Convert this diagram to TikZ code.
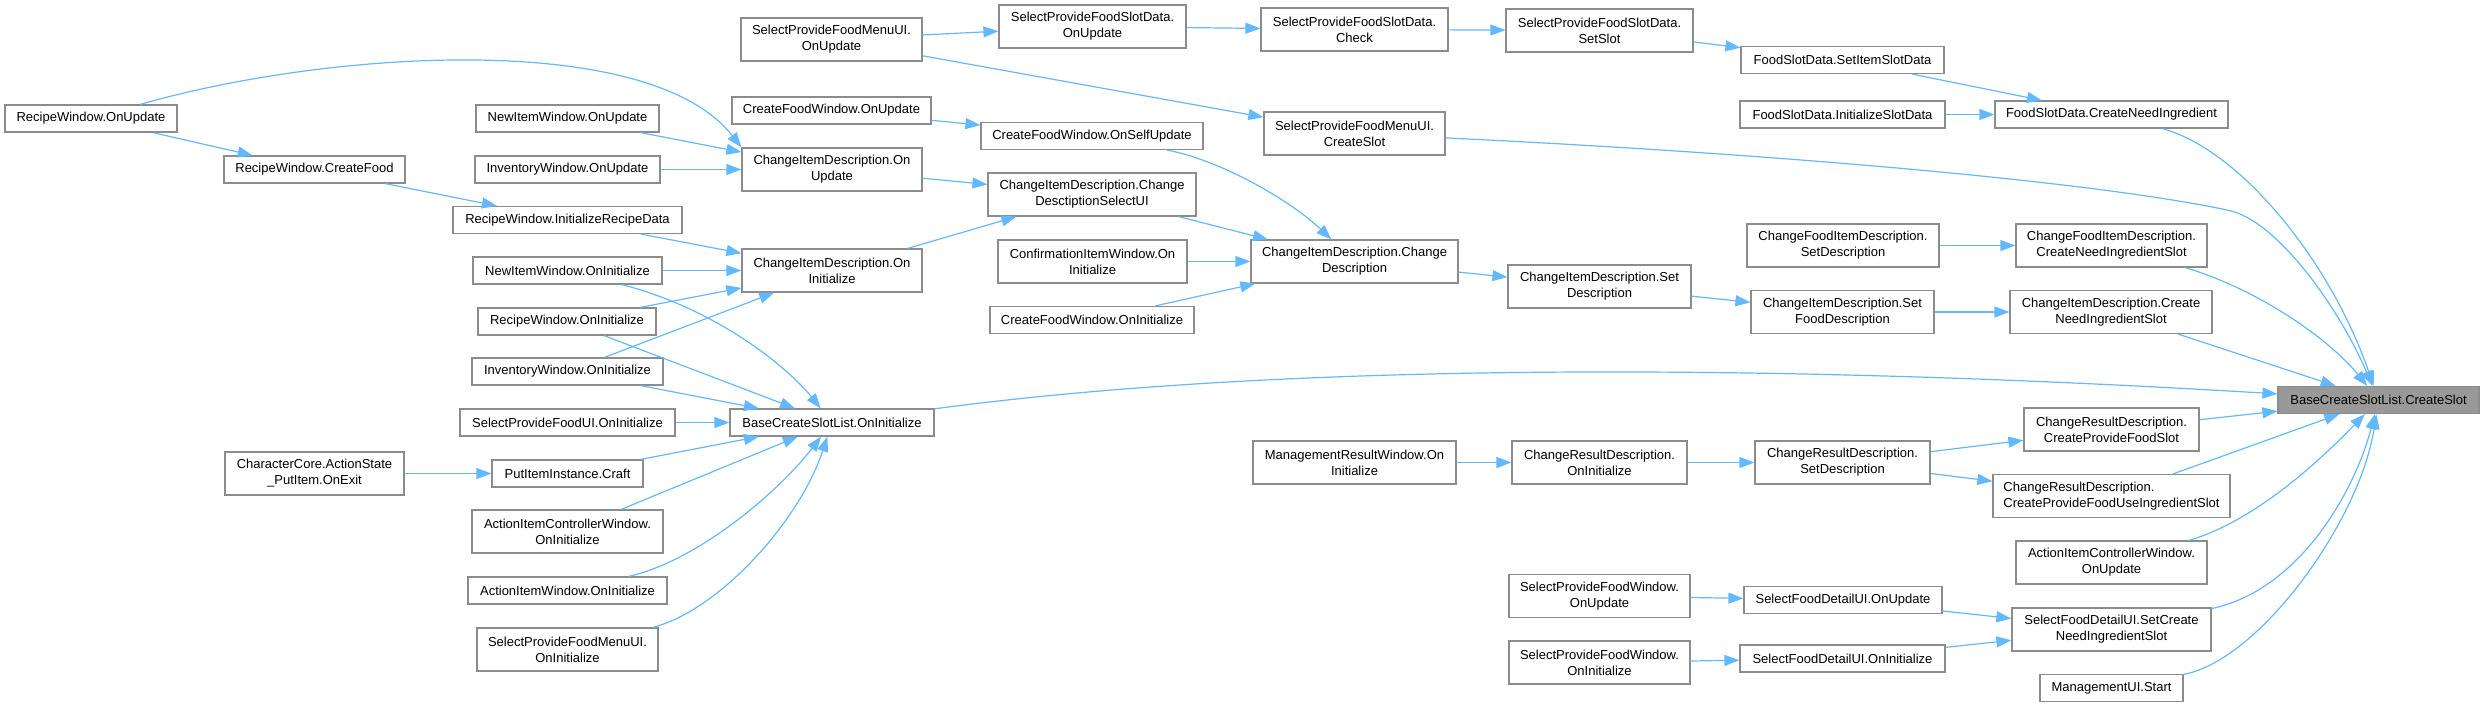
\documentclass[tikz,border=0pt]{standalone}
\usepackage{fontspec}
\setmainfont{Liberation Sans}
\usepackage{xcolor}
\usepackage{tikz}
\usetikzlibrary{arrows.meta}
\definecolor{edgeblue}{HTML}{63B8FF}
\definecolor{nodegray}{HTML}{8C8C8C}
\definecolor{rootgray}{HTML}{999999}

\begin{document}
\begin{tikzpicture}[
    x=1pt, y=-1pt,
    box/.style={rectangle, draw=nodegray, line width=1.2pt, fill=white,
                minimum height=27pt, inner sep=2pt, text centered,
                font=\fontsize{13}{16}\selectfont},
    box2/.style={box, minimum height=43pt, align=center},
    root/.style={box, fill=rootgray},
    arrow/.style={-{Triangle[length=15pt, width=11pt]}, line width=1.2pt, edgeblue},
]
\useasboundingbox (0,0) rectangle (2484,707);

\node[box, minimum width=172] (rwupd) at (91,118.5) {RecipeWindow.OnUpdate};
\node[box, minimum width=181] (rwfood) at (314.5,169.5) {RecipeWindow.CreateFood};
\node[box2, minimum width=179] (ccexit) at (314.5,473.5) {CharacterCore.ActionState\\\_PutItem.OnExit};

\node[box, minimum width=183] (niwupd) at (567.5,118.5) {NewItemWindow.OnUpdate};
\node[box, minimum width=185] (iwupd) at (567.5,169.5) {InventoryWindow.OnUpdate};
\node[box, minimum width=229] (rwdata) at (567.5,220) {RecipeWindow.InitializeRecipeData};
\node[box, minimum width=189] (niwinit) at (567.5,270.5) {NewItemWindow.OnInitialize};
\node[box, minimum width=178] (rwinit) at (567,321.5) {RecipeWindow.OnInitialize};
\node[box, minimum width=191] (iwinit) at (567.5,371.5) {InventoryWindow.OnInitialize};
\node[box, minimum width=215] (spfuiinit) at (567.5,422.5) {SelectProvideFoodUI.OnInitialize};
\node[box, minimum width=151] (craft) at (567.5,473.5) {PutItemInstance.Craft};
\node[box2, minimum width=191] (aicwinit) at (567.5,531.5) {ActionItemControllerWindow.\\OnInitialize};
\node[box, minimum width=199] (aiwinit) at (567.5,590.5) {ActionItemWindow.OnInitialize};
\node[box2, minimum width=181] (spfmuiinit) at (567.5,649.5) {SelectProvideFoodMenuUI.\\OnInitialize};

\node[box2, minimum width=181] (spfmuiupd) at (831.5,39.5) {SelectProvideFoodMenuUI.\\OnUpdate};
\node[box, minimum width=199] (cfwupd) at (831.5,110.5) {CreateFoodWindow.OnUpdate};
\node[box2, minimum width=180] (cidupd) at (832,169.5) {ChangeItemDescription.On\\Update};
\node[box2, minimum width=180] (cidinit) at (832,270.5) {ChangeItemDescription.On\\Initialize};
\node[box, minimum width=204] (bcslinit) at (832,422.5) {BaseCreateSlotList.OnInitialize};

\node[box2, minimum width=187] (spfsdupd) at (1092.5,26.5) {SelectProvideFoodSlotData.\\OnUpdate};
\node[box, minimum width=222] (cfwself) at (1092,136) {CreateFoodWindow.OnSelfUpdate};
\node[box2, minimum width=208] (cidselui) at (1092,194.5) {ChangeItemDescription.Change\\DesctiptionSelectUI};
\node[box2, minimum width=189] (ciwinit) at (1092.5,261.5) {ConfirmationItemWindow.On\\Initialize};
\node[box, minimum width=204] (cfwinit) at (1092,320) {CreateFoodWindow.OnInitialize};

\node[box2, minimum width=187] (spfsdcheck) at (1354.5,29.5) {SelectProvideFoodSlotData.\\Check};
\node[box2, minimum width=181] (spfmuislot) at (1354.5,133.5) {SelectProvideFoodMenuUI.\\CreateSlot};
\node[box2, minimum width=207] (cidchange) at (1354.5,261.5) {ChangeItemDescription.Change\\Description};
\node[box2, minimum width=203] (mrwinit) at (1354.5,462.5) {ManagementResultWindow.On\\Initialize};

\node[box2, minimum width=187] (spfsdset) at (1599.5,30.5) {SelectProvideFoodSlotData.\\SetSlot};
\node[box2, minimum width=183] (cidset) at (1599.5,286.5) {ChangeItemDescription.Set\\Description};
\node[box2, minimum width=175] (crdinit) at (1599.5,462.5) {ChangeResultDescription.\\OnInitialize};
\node[box2, minimum width=181] (spfwupd) at (1599.5,596) {SelectProvideFoodWindow.\\OnUpdate};
\node[box2, minimum width=181] (spfwinit) at (1599.5,662.5) {SelectProvideFoodWindow.\\OnInitialize};

\node[box, minimum width=203] (fsditem) at (1842.5,60) {FoodSlotData.SetItemSlotData};
\node[box, minimum width=205] (fsdinit) at (1842.5,114.5) {FoodSlotData.InitializeSlotData};
\node[box2, minimum width=192] (cfidset) at (1843,245.5) {ChangeFoodItemDescription.\\SetDescription};
\node[box2, minimum width=183] (cidfood) at (1842.5,312) {ChangeItemDescription.Set\\FoodDescription};
\node[box2, minimum width=175] (crdset) at (1842.5,462.5) {ChangeResultDescription.\\SetDescription};
\node[box, minimum width=198] (sfdupd) at (1843,600) {SelectFoodDetailUI.OnUpdate};
\node[box, minimum width=205] (sfdinit) at (1842.5,658.5) {SelectFoodDetailUI.OnInitialize};

\node[box, minimum width=233] (fsdneed) at (2111.5,114.5) {FoodSlotData.CreateNeedIngredient};
\node[box2, minimum width=191] (cfidneed) at (2111.5,245.5) {ChangeFoodItemDescription.\\CreateNeedIngredientSlot};
\node[box2, minimum width=202] (cidneed) at (2111,312) {ChangeItemDescription.Create\\NeedIngredientSlot};
\node[box2, minimum width=175] (crdfood) at (2111.5,429.5) {ChangeResultDescription.\\CreateProvideFoodSlot};
\node[box2, minimum width=237, align=left] (crduse) at (2111.5,496) {ChangeResultDescription.\\CreateProvideFoodUseIngredientSlot};
\node[box2, minimum width=191] (aicwupd) at (2111.5,562.5) {ActionItemControllerWindow.\\OnUpdate};
\node[box2, minimum width=199] (sfdneed) at (2111.5,629.5) {SelectFoodDetailUI.SetCreate\\NeedIngredientSlot};
\node[box, minimum width=143] (muistart) at (2111.5,688) {ManagementUI.Start};

\node[root, minimum width=201] (root) at (2378.5,400) {BaseCreateSlotList.CreateSlot};

\draw[arrow] (rwupd)--(rwfood); \draw[arrow] (rwfood)--(rwdata);
\draw[arrow] (rwupd) .. controls (330,50) and (650,30) .. (cidupd.north west);
\draw[arrow] (niwupd)--(cidupd); \draw[arrow] (iwupd)--(cidupd);
\draw[arrow] (rwdata)--(cidinit); \draw[arrow] (niwinit)--(cidinit);
\draw[arrow] (rwinit)--(cidinit); \draw[arrow] (iwinit)--(cidinit);
\draw[arrow] (niwinit) .. controls (720,310) and (790,370) .. (bcslinit);
\draw[arrow] (rwinit)--(bcslinit); \draw[arrow] (iwinit)--(bcslinit);
\draw[arrow] (spfuiinit)--(bcslinit); \draw[arrow] (craft)--(bcslinit);
\draw[arrow] (aicwinit)--(bcslinit);
\draw[arrow] (aiwinit) .. controls (700,560) and (780,490) .. (bcslinit);
\draw[arrow] (spfmuiinit) .. controls (720,610) and (800,520) .. (bcslinit);
\draw[arrow] (ccexit)--(craft);

\draw[arrow] (spfmuiupd)--(spfsdupd); \draw[arrow] (spfmuiupd)--(spfmuislot);
\draw[arrow] (spfsdupd)--(spfsdcheck); \draw[arrow] (spfsdcheck)--(spfsdset);
\draw[arrow] (spfsdset)--(fsditem); \draw[arrow] (fsditem)--(fsdneed);
\draw[arrow] (fsdinit)--(fsdneed);
\draw[arrow] (cfwupd)--(cfwself);
\draw[arrow] (cfwself) .. controls (1220,160) and (1290,200) .. (cidchange);
\draw[arrow] (cidupd)--(cidselui); \draw[arrow] (cidinit)--(cidselui);
\draw[arrow] (cidselui)--(cidchange); \draw[arrow] (ciwinit)--(cidchange);
\draw[arrow] (cfwinit)--(cidchange);
\draw[arrow] (cidchange)--(cidset); \draw[arrow] (cidset)--(cidfood);
\draw[arrow] (cidfood)--(cidneed); \draw[arrow] (cfidset)--(cfidneed);
\draw[arrow] (mrwinit)--(crdinit); \draw[arrow] (crdinit)--(crdset);
\draw[arrow] (crdset)--(crdfood); \draw[arrow] (crdset)--(crduse);
\draw[arrow] (spfwupd)--(sfdupd); \draw[arrow] (spfwinit)--(sfdinit);
\draw[arrow] (sfdupd)--(sfdneed); \draw[arrow] (sfdinit)--(sfdneed);

\draw[arrow] (bcslinit) .. controls (1300,360) and (1800,365) .. (root);
\draw[arrow] (spfmuislot) .. controls (1800,155) and (2100,183) .. (2227,210)
    .. controls (2277,219) and (2340,310) .. (root);
\draw[arrow] (fsdneed) .. controls (2240,150) and (2330,260) .. (root);
\draw[arrow] (cfidneed) .. controls (2260,290) and (2330,340) .. (root);
\draw[arrow] (cidneed)--(root); \draw[arrow] (crdfood)--(root);
\draw[arrow] (crduse)--(root);
\draw[arrow] (aicwupd) .. controls (2260,520) and (2330,450) .. (root);
\draw[arrow] (sfdneed) .. controls (2300,590) and (2355,490) .. (root);
\draw[arrow] (muistart) .. controls (2260,660) and (2360,520) .. (root);
\end{tikzpicture}
\end{document}
